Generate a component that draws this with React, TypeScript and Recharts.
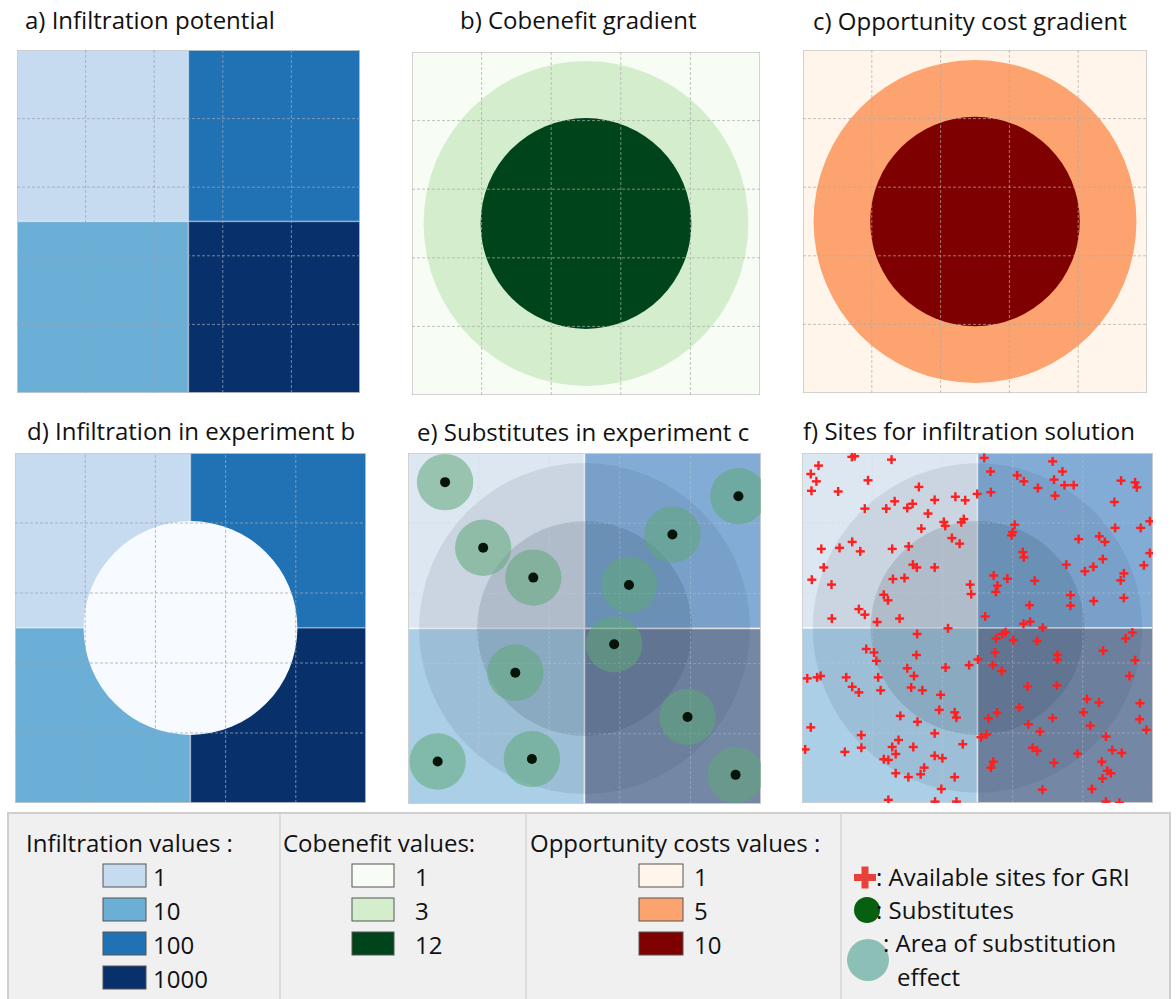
import React from "react";
import { ScatterChart, Scatter, XAxis, YAxis, ReferenceArea, ReferenceLine } from "recharts";

const FONT = "'Open Sans', 'Noto Sans', sans-serif";

// ---------- data ----------
const TITLES = [
  "a) Infiltration potential",
  "b) Cobenefit gradient",
  "c) Opportunity cost gradient",
  "d) Infiltration in experiment b",
  "e) Substitutes in experiment c",
  "f) Sites for infiltration solution",
];

const GRID_TICKS = [20, 40, 60, 80];

// infiltration raster, four blocks in map units (0-100)
const INFIL_BLOCKS = [
  { x1: 0, x2: 50, y1: 50, y2: 100, value: 1 },
  { x1: 0, x2: 50, y1: 0, y2: 50, value: 10 },
  { x1: 50, x2: 100, y1: 50, y2: 100, value: 100 },
  { x1: 50, x2: 100, y1: 0, y2: 50, value: 1000 },
];

// concentric gradient zones (centre + radius, map units)
const OUTER_ZONE = [{ x: 50, y: 50, r: 47 }];
const INNER_ZONE = [{ x: 50, y: 50, r: 30.5 }];

// substitutes of experiment c
const SUBSTITUTES = [
  [10.5, 91.7], [21.3, 73.0], [35.5, 64.5], [93.6, 87.7], [74.9, 76.8], [62.6, 62.4],
  [58.4, 45.5], [30.4, 37.4], [79.2, 24.8], [8.4, 12.1], [35.1, 12.8], [92.8, 8.3],
].map(([x, y]) => ({ x, y }));
const SUBST_RADIUS = 8;

// available sites for GRI
const SITES = [
  [14.2, 98.9], [15.0, 99.1], [25.5, 98.1], [4.7, 96.4], [2.5, 94.0], [4.1, 91.9], [18.8, 92.2],
  [2.7, 89.2], [10.3, 89.0], [33.3, 90.3], [49.9, 88.3], [43.7, 87.5], [46.5, 86.5], [37.8, 86.6],
  [26.4, 86.2], [31.5, 85.5], [30.0, 84.3], [24.0, 84.1], [17.9, 84.1], [35.9, 82.7], [40.4, 80.3],
  [40.8, 79.2], [46.1, 81.1], [45.4, 80.2], [34.0, 78.4], [42.7, 75.7], [44.9, 74.1], [14.3, 74.6],
  [5.5, 72.6], [10.7, 72.9], [16.6, 71.9], [25.7, 72.6], [30.4, 73.3], [31.6, 68.1], [32.7, 67.3],
  [37.8, 67.3], [6.2, 67.3], [2.8, 63.8], [8.4, 62.4], [25.9, 64.0], [29.2, 64.3], [47.9, 62.4],
  [48.2, 59.7], [23.3, 59.5], [24.5, 57.9], [16.2, 55.4], [17.9, 53.8], [8.5, 52.7], [21.4, 51.7],
  [27.8, 52.7],
  [51.9, 98.6], [71.4, 97.6], [53.7, 94.7], [74.2, 94.7], [61.3, 93.6], [63.2, 91.9], [71.8, 92.4],
  [67.2, 90.0], [74.8, 90.8], [77.4, 90.8], [53.8, 88.8], [72.1, 87.8], [90.9, 92.1], [94.9, 91.6],
  [95.4, 90.2], [89.0, 86.0], [99.1, 80.5], [89.2, 78.6], [96.5, 78.6], [60.6, 79.5], [60.0, 77.4],
  [59.7, 76.5], [78.8, 75.4], [84.7, 76.2], [86.3, 74.6], [62.9, 71.7], [63.2, 70.2], [99.1, 71.4],
  [75.3, 68.1], [85.7, 69.7], [83.0, 67.5], [80.6, 66.2], [97.4, 67.9], [91.7, 65.6], [90.8, 63.6],
  [54.6, 65.0], [58.5, 64.1], [66.3, 63.5], [55.7, 62.1], [55.2, 60.3], [76.5, 59.4], [83.1, 57.7],
  [91.7, 58.6], [64.8, 56.5], [76.5, 56.4], [52.2, 53.3], [63.1, 51.2], [65.0, 51.8],
  [41.6, 49.9], [32.8, 48.3], [18.3, 44.0], [20.5, 43.0], [21.2, 40.6], [32.6, 42.3], [30.0, 38.5],
  [31.9, 36.3], [40.9, 38.7], [47.6, 39.4], [50.1, 41.0], [1.5, 35.6], [4.3, 35.9], [5.3, 36.3],
  [12.6, 35.9], [21.7, 35.9], [14.3, 33.2], [16.2, 31.6], [22.4, 32.2], [31.1, 33.0], [34.3, 32.2],
  [39.5, 30.9], [39.1, 26.6], [43.5, 25.9], [44.0, 24.4], [28.0, 24.9], [32.9, 23.2], [2.5, 21.6],
  [16.9, 19.4], [37.8, 19.9], [27.5, 18.0], [45.8, 16.8], [0.9, 15.3], [12.2, 14.6], [16.9, 15.8],
  [25.7, 16.0], [26.7, 14.0], [31.7, 16.0], [37.8, 13.5], [40.0, 12.8], [23.3, 12.5], [24.6, 12.3],
  [34.8, 10.1], [33.8, 8.2], [26.7, 8.5], [30.3, 7.4], [43.5, 7.4], [39.7, 4.0], [24.6, 0.9],
  [37.9, 0.4], [44.0, 0.4],
  [68.6, 50.1], [55.3, 47.0], [57.1, 48.3], [58.0, 48.8], [60.2, 46.5], [67.0, 46.3], [55.0, 43.0],
  [54.4, 39.4], [56.9, 37.7], [72.8, 42.3], [72.8, 41.0], [64.3, 33.3], [72.6, 33.6], [92.2, 47.0],
  [94.1, 48.7], [85.8, 43.5], [94.9, 40.8], [93.3, 36.3], [81.2, 29.7], [84.6, 28.7], [80.2, 25.9],
  [96.3, 28.5], [96.2, 23.9], [98.1, 20.9], [82.1, 22.1], [61.9, 27.3], [55.6, 25.8], [53.1, 24.2],
  [71.4, 24.3], [64.5, 22.5], [67.8, 20.4], [52.6, 19.6], [51.0, 18.8], [86.6, 19.0], [65.7, 15.8],
  [67.0, 14.9], [78.5, 14.1], [88.4, 15.1], [91.1, 14.3], [54.5, 11.8], [53.8, 10.1], [71.8, 11.5],
  [85.4, 11.8], [87.0, 9.2], [88.0, 8.5], [85.6, 7.0], [68.5, 3.8], [82.6, 4.0], [86.6, 0.4],
  [90.4, 0.0],
].map(([x, y]) => ({ x, y }));

// legend values
const INFIL_VALUES = [1, 10, 100, 1000];
const COBEN_VALUES = [1, 3, 12];
const OPP_VALUES = [1, 5, 10];

// ---------- colours ----------
const INFIL_COLORS: Record<number, string> = { 1: "#c6dbef", 10: "#6baed6", 100: "#2171b5", 1000: "#08306b" };
const INFIL_FADED: Record<number, string> = { 1: "#dde7f1", 10: "#aacfe6", 100: "#82acd5", 1000: "#7487a5" };
const COBEN_COLORS: Record<number, string> = { 1: "#f7fcf5", 3: "#d4eecd", 12: "#00441b" };
const OPP_COLORS: Record<number, string> = { 1: "#fff5eb", 5: "#fca36f", 10: "#7f0000" };

// ---------- layout ----------
type Box = { left: number; top: number; width: number; height: number };
const BOX_A: Box = { left: 17, top: 50, width: 343, height: 343 };
const BOX_B: Box = { left: 412, top: 52, width: 348, height: 343 };
const BOX_C: Box = { left: 803, top: 50, width: 344, height: 343 };
const BOX_D: Box = { left: 15, top: 453, width: 351, height: 350 };
const BOX_E: Box = { left: 408, top: 453, width: 353, height: 351 };
const BOX_F: Box = { left: 802, top: 453, width: 351, height: 350 };
const TITLE_POS = [[25, 29], [460, 29], [813, 30], [27, 440], [417, 441], [803, 440]];

const NO_MARGIN = { top: 0, right: 0, bottom: 0, left: 0 };
const pxPerUnit = (b: Box) => (b.width + b.height) / 200;

function Layer({ box, children }: { box: Box; children: React.ReactNode }) {
  return (
    <div style={{ position: "absolute", left: box.left, top: box.top }}>
      <ScatterChart width={box.width} height={box.height} margin={NO_MARGIN}>
        <XAxis type="number" dataKey="x" domain={[0, 100]} hide allowDataOverflow />
        <YAxis type="number" dataKey="y" domain={[0, 100]} hide allowDataOverflow />
        {children}
      </ScatterChart>
    </div>
  );
}

function Frame({ box, gridColor, gridOpacity }: { box: Box; gridColor: string; gridOpacity: number }) {
  return (
    <div style={{ position: "absolute", left: box.left, top: box.top }}>
      <ScatterChart width={box.width} height={box.height} margin={NO_MARGIN}>
        <XAxis type="number" dataKey="x" domain={[0, 100]} ticks={GRID_TICKS} allowDataOverflow mirror height={0}
          tick={false} tickSize={4} axisLine={false} tickLine={{ stroke: "#333" }} />
        <YAxis type="number" dataKey="y" domain={[0, 100]} ticks={GRID_TICKS} allowDataOverflow mirror width={0}
          tick={false} tickSize={4} axisLine={false} tickLine={{ stroke: "#333" }} />
        {GRID_TICKS.map((t) => (
          <ReferenceLine key={"x" + t} x={t} stroke={gridColor} strokeOpacity={gridOpacity} strokeDasharray="3 2" />
        ))}
        {GRID_TICKS.map((t) => (
          <ReferenceLine key={"y" + t} y={t} stroke={gridColor} strokeOpacity={gridOpacity} strokeDasharray="3 2" />
        ))}
        <ReferenceArea x1={0} x2={100} y1={0} y2={100} fill="none" stroke="#c6c6c6" strokeWidth={1.5} />
      </ScatterChart>
    </div>
  );
}

const disc = (k: number, fill: string, opacity = 1) => (p: any) =>
  <circle cx={p.cx} cy={p.cy} r={p.payload.r * k} fill={fill} fillOpacity={opacity} />;

const halo = (k: number) => (p: any) =>
  <circle cx={p.cx} cy={p.cy} r={SUBST_RADIUS * k} fill="#5fa878" fillOpacity={0.55} />;

const dot = (p: any) => <circle cx={p.cx} cy={p.cy} r={5} fill="#06140a" />;

const plus = (p: any) => (
  <g stroke="#ff1f1f" strokeWidth={2.4}>
    <line x1={p.cx - 4.5} x2={p.cx + 4.5} y1={p.cy} y2={p.cy} />
    <line x1={p.cx} x2={p.cx} y1={p.cy - 4.5} y2={p.cy + 4.5} />
  </g>
);

function blocks(colors: Record<number, string>, edge: number) {
  return INFIL_BLOCKS.map((b) => (
    <ReferenceArea key={b.value} x1={b.x1} x2={b.x2} y1={b.y1} y2={b.y2}
      fill={colors[b.value]} fillOpacity={1} stroke="#ffffff" strokeOpacity={edge} strokeWidth={1.5} />
  ));
}

function zones(box: Box, outer: string, inner: string, outerOp = 1, innerOp = 1) {
  const k = pxPerUnit(box);
  return [
    <Scatter key="o" data={OUTER_ZONE} shape={disc(k, outer, outerOp)} isAnimationActive={false} />,
    <Scatter key="i" data={INNER_ZONE} shape={disc(k, inner, innerOp)} isAnimationActive={false} />,
  ];
}

function Legend() {
  const groups = [
    { title: "Infiltration values :", values: INFIL_VALUES, colors: INFIL_COLORS, tx: 26, sx: 103, sw: 43, lx: 153 },
    { title: "Cobenefit values:", values: COBEN_VALUES, colors: COBEN_COLORS, tx: 283, sx: 352, sw: 42, lx: 415 },
    { title: "Opportunity costs values :", values: OPP_VALUES, colors: OPP_COLORS, tx: 530, sx: 639, sw: 44, lx: 694 },
  ];
  const row0 = 886;
  const pitch = 34;
  return (
    <g fontFamily={FONT} fontSize={24} fill="#111">
      <rect x={8} y={813} width={1162} height={190} fill="#f0f0f0" stroke="#cfcfcf" strokeWidth={2} />
      {[280, 526, 841].map((x) => (
        <line key={x} x1={x} x2={x} y1={813} y2={999} stroke="#d6d6d6" strokeWidth={1.5} />
      ))}
      {groups.map((g) => (
        <g key={g.title}>
          <text x={g.tx} y={852}>{g.title}</text>
          {g.values.map((v, i) => (
            <g key={v}>
              <rect x={g.sx} y={row0 - 22 + i * pitch} width={g.sw} height={23} fill={g.colors[v]} stroke="#555" strokeWidth={1} />
              <text x={g.lx} y={row0 + i * pitch}>{v}</text>
            </g>
          ))}
        </g>
      ))}
      <rect x={854} y={874} width={22} height={7} fill="#e8413a" />
      <rect x={861.5} y={866.5} width={7} height={22} fill="#e8413a" />
      <text x={876} y={886}>: Available sites for GRI</text>
      <circle cx={867} cy={910} r={13} fill="#06600f" />
      <text x={876} y={919}>: Substitutes</text>
      <circle cx={868} cy={960} r={21} fill="#8cc0b6" />
      <text x={883} y={952}>: Area of substitution</text>
      <text x={897} y={986}>effect</text>
    </g>
  );
}

export default function App() {
  const kE = pxPerUnit(BOX_E);
  return (
    <div style={{ position: "absolute", left: 0, top: 0, width: 1176, height: 999, background: "#fff", overflow: "hidden" }}>
      <svg width={1176} height={999} style={{ position: "absolute", left: 0, top: 0 }}>
        <g fontFamily={FONT} fontSize={24} fill="#111">
          {TITLES.map((t, i) => (
            <text key={t} x={TITLE_POS[i][0]} y={TITLE_POS[i][1]}>{t}</text>
          ))}
        </g>
        <Legend />
      </svg>

      {/* a */}
      <Layer box={BOX_A}>{blocks(INFIL_COLORS, 0.35)}</Layer>
      <Frame box={BOX_A} gridColor="#9aa6b6" gridOpacity={0.75} />

      {/* b */}
      <Layer box={BOX_B}>
        <ReferenceArea x1={0} x2={100} y1={0} y2={100} fill={COBEN_COLORS[1]} fillOpacity={1} />
        {zones(BOX_B, COBEN_COLORS[3], COBEN_COLORS[12])}
      </Layer>
      <Frame box={BOX_B} gridColor="#a8aca8" gridOpacity={0.7} />

      {/* c */}
      <Layer box={BOX_C}>
        <ReferenceArea x1={0} x2={100} y1={0} y2={100} fill={OPP_COLORS[1]} fillOpacity={1} />
        {zones(BOX_C, OPP_COLORS[5], OPP_COLORS[10])}
      </Layer>
      <Frame box={BOX_C} gridColor="#b0aaa4" gridOpacity={0.7} />

      {/* d */}
      <Layer box={BOX_D}>
        {blocks(INFIL_COLORS, 0.35)}
        <Scatter data={INNER_ZONE} shape={disc(pxPerUnit(BOX_D), "#f7fbff")} isAnimationActive={false} />
      </Layer>
      <Frame box={BOX_D} gridColor="#9aa6b6" gridOpacity={0.75} />

      {/* e */}
      <Layer box={BOX_E}>
        {blocks(INFIL_FADED, 0.8)}
        {zones(BOX_E, "#2b3d55", "#2b3d55", 0.1, 0.16)}
      </Layer>
      <Frame box={BOX_E} gridColor="#c8d0da" gridOpacity={0.35} />
      <Layer box={BOX_E}>
        <Scatter data={SUBSTITUTES} shape={halo(kE)} isAnimationActive={false} />
        <Scatter data={SUBSTITUTES} shape={dot} isAnimationActive={false} />
      </Layer>

      {/* f */}
      <Layer box={BOX_F}>
        {blocks(INFIL_FADED, 0.8)}
        {zones(BOX_F, "#2b3d55", "#2b3d55", 0.1, 0.16)}
      </Layer>
      <Frame box={BOX_F} gridColor="#c8d0da" gridOpacity={0.35} />
      <Layer box={BOX_F}>
        <Scatter data={SITES} shape={plus} isAnimationActive={false} />
      </Layer>
    </div>
  );
}
